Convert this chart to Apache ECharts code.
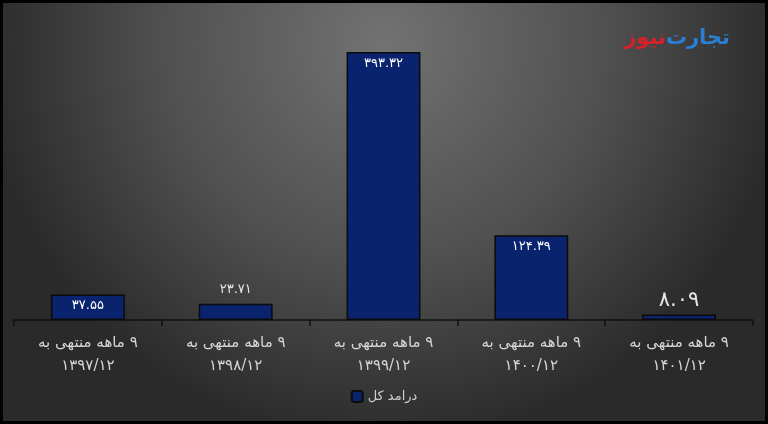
<!DOCTYPE html>
<html><head><meta charset="utf-8">
<script src="https://cdn.jsdelivr.net/npm/echarts@6/dist/echarts.min.js"></script>
<style>html,body{margin:0;padding:0;background:#000}#c{width:768px;height:424px}</style>
</head><body><div id="c" dir="rtl"></div>
<script>
const categories = ["۹ ماهه منتهی به\n۱۳۹۷/۱۲","۹ ماهه منتهی به\n۱۳۹۸/۱۲","۹ ماهه منتهی به\n۱۳۹۹/۱۲","۹ ماهه منتهی به\n۱۴۰۰/۱۲","۹ ماهه منتهی به\n۱۴۰۱/۱۲"];
const values = [37.55, 23.71, 393.32, 124.39, 8.09];
const seriesName = "درامد کل";
const labelInside = [true, false, true, true, false];
const labelBig = [false, false, false, false, true];

const fa = s => String(s).replace(/[0-9]/g, d => "۰۱۲۳۴۵۶۷۸۹"[d]);
const FONT = "DejaVu Sans";
const chart = echarts.init(document.getElementById('c'), null, {renderer:'canvas'});
chart.setOption({
  animation:false,
  backgroundColor:{type:'radial',x:0.5,y:0.1,r:0.95,colorStops:[{offset:0,color:'#727272'},{offset:0.55,color:'#505050'},{offset:1,color:'#2a2a2a'}]},
  textStyle:{fontFamily:FONT},
  grid:{left:14,right:15,top:47.5,bottom:104,containLabel:false},
  xAxis:{type:'category',data:categories,
    axisLine:{lineStyle:{color:'#111',width:1.5}},
    axisTick:{show:true,length:6,lineStyle:{color:'#111',width:1.5}},
    axisLabel:{color:'#d6d6d6',fontSize:15,lineHeight:23,margin:12,fontFamily:FONT,interval:0}},
  yAxis:{type:'value',min:0,max:400,show:false,splitLine:{show:false}},
  legend:{data:[seriesName],bottom:16,left:'center',itemWidth:11,itemHeight:11,
    textStyle:{color:'#cfcfcf',fontSize:13,fontFamily:FONT}},
  series:[{name:seriesName,type:'bar',barWidth:'50%',
    itemStyle:{color:'#0a236e',borderColor:'#0b0b0b',borderWidth:1.5},
    data:values.map((v,i)=>({value:v,label:{show:true,
      position: labelInside[i]?'insideTop':'top',
      distance: labelInside[i]?5:(labelBig[i]?3:8),
      color: labelInside[i]?'#ffffff':'#e6e6e6',
      fontSize: labelBig[i]?21:13, fontFamily:FONT,
      formatter:()=>fa(v.toFixed(2))}}))}],
  graphic:[
    {type:'text',right:38,top:28,style:{rich:{b:{fill:'#2a7fd4',fontSize:21,fontWeight:'bold',fontFamily:FONT},r:{fill:'#d8202a',fontSize:21,fontWeight:'bold',fontFamily:FONT}},text:'{r|نیوز}{b|تجارت}'}},
    {type:'rect',shape:{x:1.5,y:1.5,width:765,height:421},style:{fill:'none',stroke:'#000',lineWidth:3},silent:true,z:100}
  ]
});
</script></body></html>
